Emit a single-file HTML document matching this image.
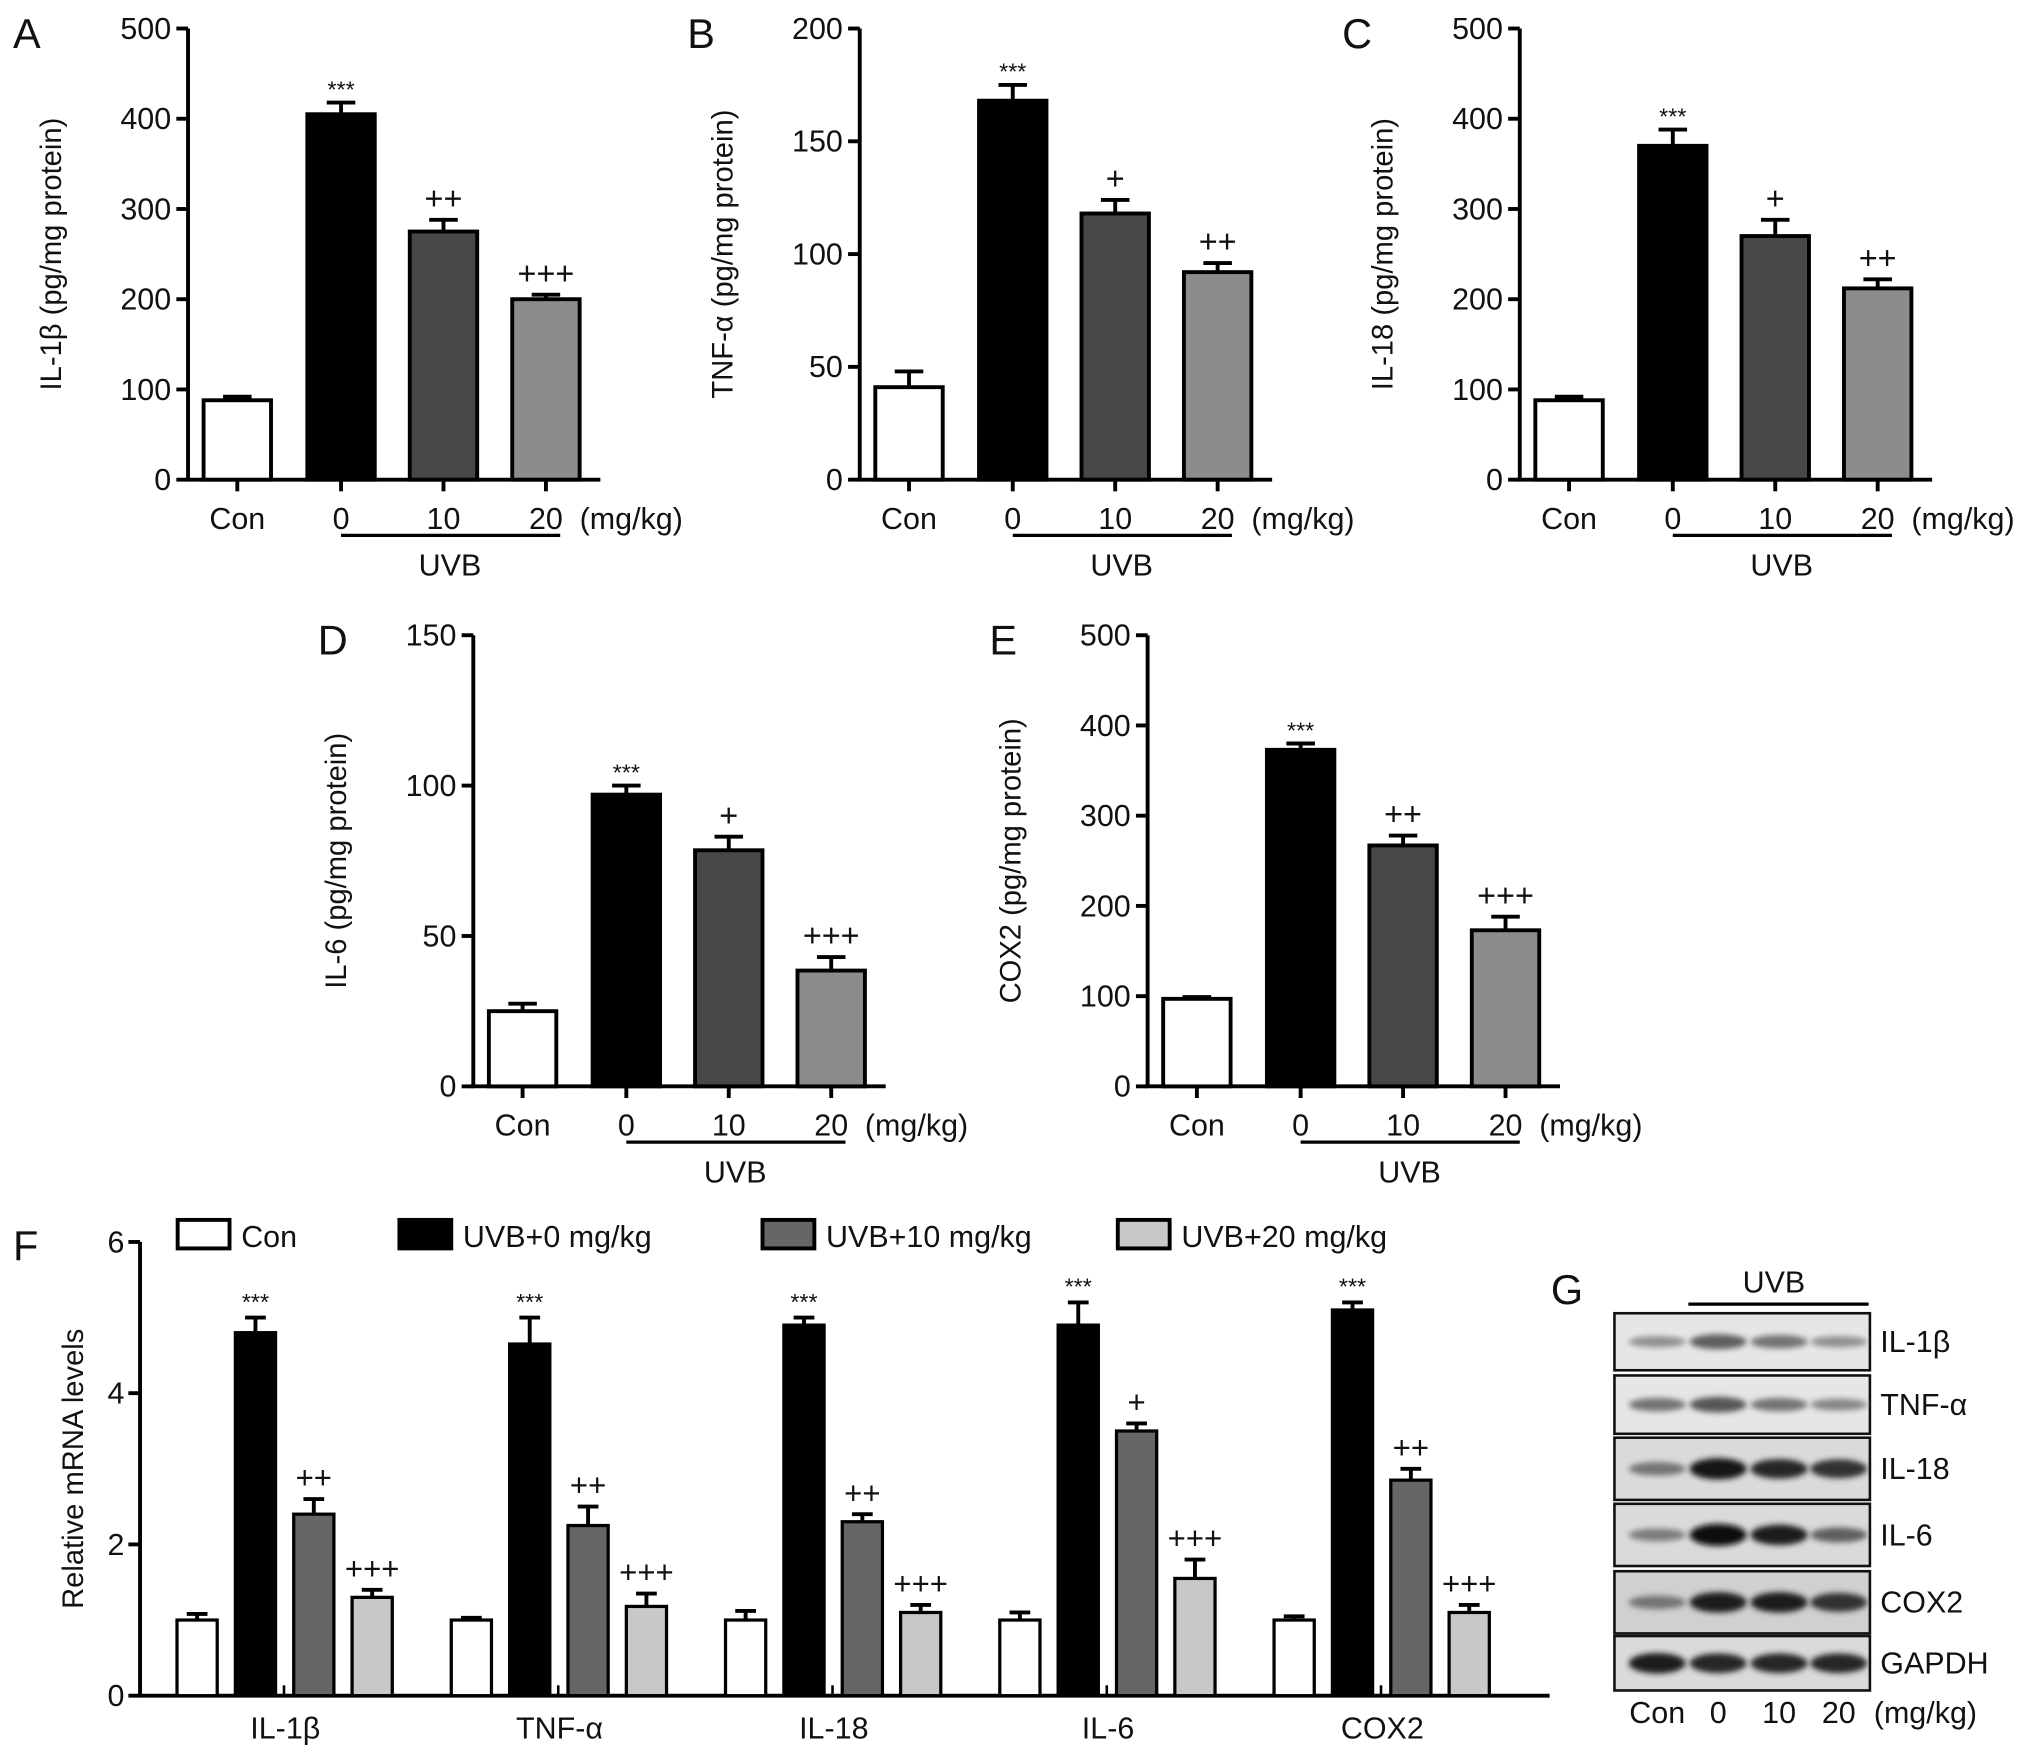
<!DOCTYPE html>
<html><head><meta charset="utf-8"><style>
html,body{margin:0;padding:0;background:#fff;}
svg{display:block;font-family:"Liberation Sans",Arial,sans-serif;}
</style></head><body>
<svg id="fig" width="2032" height="1754" viewBox="0 0 1567 1353" preserveAspectRatio="none" xmlns="http://www.w3.org/2000/svg">
<defs><filter id="blur" x="-20%" y="-50%" width="140%" height="200%"><feGaussianBlur stdDeviation="2.2"/></filter></defs>
</svg>
<script>
// ---- data ----
const doseCats = ["Con","0","10","20"];
const valsA = [88,405,275,200];
const errsA = [92,418,288,205];
const annA = ["","***","++","+++"];
const ticksA = [0,100,200,300,400,500];
const valsB = [41,168,118,92];
const errsB = [48,175,124,96];
const annB = ["","***","+","++"];
const ticksB = [0,50,100,150,200];
const valsC = [88,370,270,212];
const errsC = [92,388,288,222];
const annC = ["","***","+","++"];
const ticksC = [0,100,200,300,400,500];
const valsD = [25,97,78.5,38.5];
const errsD = [27.5,100,83,43];
const annD = ["","***","+","+++"];
const ticksD = [0,50,100,150];
const valsE = [97,373,267,173];
const errsE = [99,380,278,188];
const annE = ["","***","++","+++"];
const ticksE = [0,100,200,300,400,500];
const genes = ["IL-1β","TNF-α","IL-18","IL-6","COX2"];
const mrnaCon = [1.0,1.0,1.0,1.0,1.0];
const mrnaConErr = [1.08,1.03,1.12,1.1,1.05];
const mrnaU0 = [4.8,4.65,4.9,4.9,5.1];
const mrnaU0Err = [5.0,5.0,5.0,5.2,5.2];
const mrnaU10 = [2.4,2.25,2.3,3.5,2.85];
const mrnaU10Err = [2.6,2.5,2.4,3.6,3.0];
const mrnaU20 = [1.3,1.18,1.1,1.55,1.1];
const mrnaU20Err = [1.4,1.35,1.2,1.8,1.2];
const annU10 = ["++","++","++","+","++"];
const ticksF = [0,2,4,6];
const legendLabels = ["Con","UVB+0 mg/kg","UVB+10 mg/kg","UVB+20 mg/kg"];
const blotRows = ["IL-1β","TNF-α","IL-18","IL-6","COX2","GAPDH"];
const bandIntensity = [[0.3,0.55,0.45,0.3],[0.45,0.6,0.45,0.35],[0.45,0.95,0.85,0.8],[0.4,1,0.9,0.55],[0.45,0.9,0.9,0.8],[0.9,0.85,0.85,0.85]];

const NS="http://www.w3.org/2000/svg";
const svg=document.getElementById('fig');
function el(tag,attrs,parent,text){const e=document.createElementNS(NS,tag);for(const k in attrs)e.setAttribute(k,attrs[k]);if(text!==undefined)e.textContent=text;(parent||svg).appendChild(e);return e;}
function txt(x,y,s,size,anchor,parent,extra){const t=el('text',Object.assign({x:x,y:y,'font-size':size,'text-anchor':anchor||'middle',fill:'#111'},extra||{}),parent,s);return t;}

const fills=["#ffffff","#000000","#474747","#8c8c8c"];

function panel(letter,ax,top,bottom,ticks,vals,errs,ann,title,lx){
  const g=el('g',{});
  
  
  const max=ticks[ticks.length-1];
  const y=v=>bottom-(v/max)*(bottom-top);
  const centers=[ax+38,ax+118,ax+197,ax+276];
  const bw=52;
  const L=txt(lx,top+15,letter,32,'start',g);
  
  el('line',{x1:ax,y1:top,x2:ax,y2:bottom,stroke:'#000','stroke-width':3},g);
  el('line',{x1:ax-2,y1:bottom,x2:ax+318,y2:bottom,stroke:'#000','stroke-width':3},g);
  ticks.forEach(t=>{el('line',{x1:ax-9,y1:y(t),x2:ax,y2:y(t),stroke:'#000','stroke-width':3},g);
    const tl=txt(ax-13,y(t)+8,String(t),23.5,'end',g);});
  vals.forEach((v,i)=>{const c=centers[i];
    el('line',{x1:c,y1:y(errs[i]),x2:c,y2:y(v),stroke:'#000','stroke-width':3},g);
    el('line',{x1:c-11,y1:y(errs[i]),x2:c+11,y2:y(errs[i]),stroke:'#000','stroke-width':3},g);
    const r=el('rect',{x:c-bw/2,y:y(v),width:bw,height:bottom-y(v),fill:fills[i],stroke:'#000','stroke-width':3},g);
    
    el('line',{x1:c,y1:bottom,x2:c,y2:bottom+9,stroke:'#000','stroke-width':3},g);
    const xl=txt(c,bottom+38,doseCats[i],23.5,'middle',g);
    if(ann[i]){const a=txt(c,y(errs[i])-(ann[i]==='***'?4:8),ann[i],ann[i]==='***'?18:25,'middle',g);}
  });
  const u=txt(centers[3]+26,bottom+38,'(mg/kg)',23.5,'start',g);
  el('line',{x1:centers[1],y1:bottom+43,x2:centers[3]+11,y2:bottom+43,stroke:'#000','stroke-width':2.5},g);
  const uv=txt((centers[1]+centers[3])/2+5,bottom+74,'UVB',23.5,'middle',g);
  const cy=(top+bottom)/2;
  const yt=txt(ax-98,cy,title,22.5,'middle',g,{transform:`rotate(-90 ${ax-98} ${cy})`});
  
}
panel('A',145,22,370,ticksA,valsA,errsA,annA,'IL-1β (pg/mg protein)',10);
panel('B',663,22,370,ticksB,valsB,errsB,annB,'TNF-α (pg/mg protein)',530);
panel('C',1172,22,370,ticksC,valsC,errsC,annC,'IL-18 (pg/mg protein)',1035);
panel('D',365,490,838,ticksD,valsD,errsD,annD,'IL-6 (pg/mg protein)',245);
panel('E',885,490,838,ticksE,valsE,errsE,annE,'COX2 (pg/mg protein)',763);

// ---- Panel F ----
(function(){
  const g=el('g',{});
  
  
  const ax=108,top=958,bottom=1308,max=6;
  const y=v=>bottom-(v/max)*(bottom-top);
  const L=txt(10,972,'F',32,'start',g);
  el('line',{x1:ax,y1:top,x2:ax,y2:bottom,stroke:'#000','stroke-width':3},g);
  el('line',{x1:ax-2,y1:bottom,x2:1195,y2:bottom,stroke:'#000','stroke-width':3},g);
  ticksF.forEach(t=>{el('line',{x1:ax-9,y1:y(t),x2:ax,y2:y(t),stroke:'#000','stroke-width':3},g);
    const tl=txt(ax-12,y(t)+8,String(t),23.5,'end',g);});
  const yt=txt(64,1133,'Relative mRNA levels',22.5,'middle',g,{transform:'rotate(-90 64 1133)'});
  
  const series=[mrnaCon,mrnaU0,mrnaU10,mrnaU20];
  const serr=[mrnaConErr,mrnaU0Err,mrnaU10Err,mrnaU20Err];
  const ffill=["#ffffff","#000000","#666666","#c8c8c8"];
  const bw=31;
  genes.forEach((gn,gi)=>{
    const g0=152+gi*211.5;
    series.forEach((s,si)=>{
      const c=g0+si*45;const v=s[gi],e=serr[si][gi];
      el('line',{x1:c,y1:y(e),x2:c,y2:y(v),stroke:'#000','stroke-width':3},g);
      el('line',{x1:c-8,y1:y(e),x2:c+8,y2:y(e),stroke:'#000','stroke-width':3},g);
      const r=el('rect',{x:c-bw/2,y:y(v),width:bw,height:bottom-y(v),fill:ffill[si],stroke:'#000','stroke-width':2.5},g);
      
      let a=null;
      if(si===1)a='***';else if(si===2)a=annU10[gi];else if(si===3)a='+++';
      if(a){const t=txt(c,y(e)-(a==='***'?6:8),a,a==='***'?18:24,'middle',g);}
    });
    el('line',{x1:g0+67,y1:bottom-8,x2:g0+67,y2:bottom,stroke:'#000','stroke-width':2},g);
    const xl=txt(g0+68,1341,gn,23.5,'middle',g);
  });
  const lx=[137,308,588,862];
  legendLabels.forEach((lab,i)=>{
    const lg=el('g',{},g);
    
    
    el('rect',{x:lx[i],y:941,width:40,height:22,fill:ffill[i],stroke:'#000','stroke-width':3},lg);
    txt(lx[i]+49,962,lab,23.5,'start',lg);
  });
})();

// ---- Panel G ----
(function(){
  const g=el('g',{});
  
  
  const L=txt(1196,1006,'G',32,'start',g);
  txt(1368,997,'UVB',23.5,'middle',g);
  el('line',{x1:1302,y1:1006,x2:1441,y2:1006,stroke:'#000','stroke-width':2.5},g);
  const rowTop=[1013,1061,1109,1160,1212,1262],rowH=[44,45,48,48,48,42];
  const lanes=[1278,1325,1372,1418];
  blotRows.forEach((name,ri)=>{
    const bg=el('g',{},g);
    
    
    el('rect',{x:1245,y:rowTop[ri],width:197,height:rowH[ri],fill:ri===4?'#d0d0d0':(ri>=2?'#dadada':'#e6e6e6'),stroke:'#111','stroke-width':2},bg);
    const cy=rowTop[ri]+rowH[ri]/2;
    bandIntensity[ri].forEach((v,li)=>{
      const c=Math.round(200-190*v);
      el('ellipse',{cx:lanes[li],cy:cy,rx:22,ry:2.5+6*v,fill:`rgb(${c},${c},${c})`,filter:'url(#blur)'},bg);
    });
    txt(1450,cy+8,name,23.5,'start',bg);
  });
  const bl=["Con","0","10","20"];
  bl.forEach((s,i)=>txt(lanes[i],1329,s,23.5,'middle',g));
  txt(1445,1329,'(mg/kg)',23.5,'start',g);
})();
</script>
</body></html>
